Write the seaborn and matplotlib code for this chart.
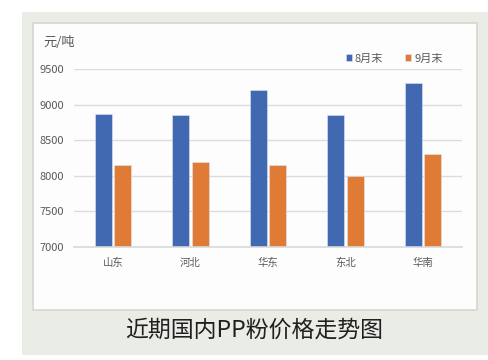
import pandas as pd
import seaborn as sns
import matplotlib.pyplot as plt
from matplotlib.patches import Rectangle

regions = ["山东", "河北", "华东", "东北", "华南"]
end_aug = [8870, 8850, 9200, 8850, 9300]
end_sep = [8150, 8200, 8150, 8000, 8300]
series = ["8月末", "9月末"]
yticks = [7000, 7500, 8000, 8500, 9000, 9500]

df = pd.DataFrame({"region": regions * 2,
                   "price": end_aug + end_sep,
                   "month": [series[0]] * len(regions) + [series[1]] * len(regions)})

sns.set_style("white")
plt.rcParams['font.family'] = ['Noto Sans CJK SC', 'DejaVu Sans']

fig = plt.figure(figsize=(4.89, 3.6), dpi=100)
fig.patch.set_facecolor("white")

# green-grey card and the white chart panel on top of it
fig.patches.append(Rectangle((22 / 489, 1 - 355 / 360), 467 / 489, 343 / 360,
                             transform=fig.transFigure, facecolor="#e9ede6",
                             edgecolor="none", zorder=-10))
fig.patches.append(Rectangle((33 / 489, 1 - 310 / 360), 444 / 489, 287 / 360,
                             transform=fig.transFigure, facecolor="#fdfdfd",
                             edgecolor="#d9d6d0", linewidth=1.2, zorder=-9))

ax = fig.add_axes([74 / 489, 1 - 247 / 360, 388 / 489, 178 / 360])
ax.set_facecolor("none")
ax.set_zorder(5)

sns.barplot(data=df, x="region", y="price", hue="month", ax=ax,
            palette=["#4169b2", "#e07b36"], width=0.5, gap=0.13,
            edgecolor="#dfe6f2", linewidth=0.4, saturation=1)

ax.set_ylim(7000, 9500)
ax.set_yticks(yticks)
ax.set_xlabel("")
ax.set_ylabel("")
ax.yaxis.grid(True, color="#dcdcdc", linewidth=1)
ax.set_axisbelow(True)
for s in ["top", "right", "left"]:
    ax.spines[s].set_visible(False)
ax.spines["bottom"].set_color("#d9d9d9")
ax.spines["bottom"].set_linewidth(1.2)
ax.tick_params(axis="both", length=0, labelcolor="#595959")
ax.tick_params(axis="x", pad=8, labelsize=7.5)
ax.tick_params(axis="y", pad=7, labelsize=8)

leg = ax.legend(loc="lower right", bbox_to_anchor=(0.965, 1.0), ncol=2,
                frameon=False, fontsize=8, handlelength=0.5, handleheight=0.5,
                handletextpad=0.3, columnspacing=2.0, borderaxespad=0.1)
for t in leg.get_texts():
    t.set_color("#595959")

fig.text(43 / 489, 1 - 42 / 360, "元/吨", fontsize=9.5, color="#595959", va="center")
fig.text(254 / 489, 1 - 330 / 360, "近期国内PP粉价格走势图", fontsize=16.5,
         color="#231f20", ha="center", va="center", fontweight="medium")

fig.savefig("out.png", dpi=100)
